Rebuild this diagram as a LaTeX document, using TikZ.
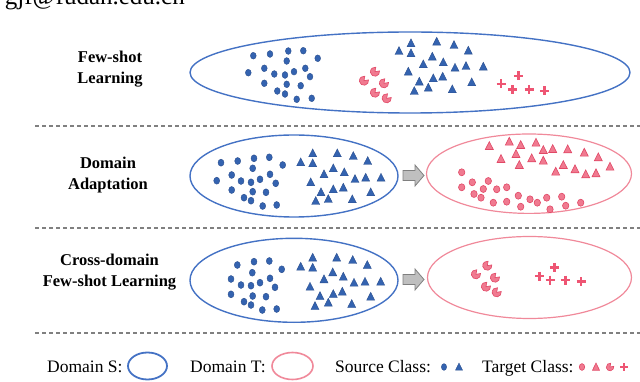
\documentclass[tikz,border=0pt]{standalone}
\usepackage{fontspec}
\setmainfont{Liberation Serif}
\usetikzlibrary{shapes.geometric}
\definecolor{blueline}{HTML}{4472C4}
\definecolor{bfill}{HTML}{3463B0}
\definecolor{bdraw}{HTML}{2B4F8E}
\definecolor{pinkline}{HTML}{F0899A}
\definecolor{pfill}{HTML}{F07A90}
\definecolor{pdraw}{HTML}{E14866}
\definecolor{pcross}{HTML}{EE5573}
\definecolor{sepgray}{HTML}{808080}
\definecolor{arrfill}{HTML}{BFBFBF}
\definecolor{arrdraw}{HTML}{7F7F7F}
\begin{document}
\begin{tikzpicture}[x=1pt,y=-1pt,
  bdot/.style={fill=bfill,draw=bdraw,line width=0.4pt},
  pdot/.style={fill=pfill,draw=pdraw,line width=0.6pt},
  pplus/.style={draw=pcross,line width=2.8pt},
  sepline/.style={draw=sepgray,line width=1.1pt,dash pattern=on 4pt off 3pt},
  domS/.style={ellipse,draw=blueline,line width=1.4pt,inner sep=0pt},
  domT/.style={ellipse,draw=pinkline,line width=1.2pt,inner sep=0pt},
  lbl/.style={font=\bfseries\fontsize{16.5}{21}\selectfont,align=center},
  leg/.style={font=\fontsize{17.5}{21}\selectfont,anchor=base west,inner sep=0pt},
  garrow/.style={fill=arrfill,draw=arrdraw,line width=0.8pt}]
\useasboundingbox (0,0) rectangle (640,382);

% email text, cut by the top edge as in the reference
\node[font=\fontsize{25}{28}\selectfont,anchor=base east,inner sep=0pt] (mail) at (185,4.5) {gjf@fudan.edu.cn};

% separators
\coordinate (s1a) at (35,126); \coordinate (s1b) at (640,126);
\coordinate (s2a) at (35,228); \coordinate (s2b) at (640,228);
\coordinate (s3a) at (35,333); \coordinate (s3b) at (640,333);
\draw[sepline] (s1a) -- (s1b);
\draw[sepline] (s2a) -- (s2b);
\draw[sepline] (s3a) -- (s3b);

% row labels
\node[lbl] (l1) at (110,69.5) {Few-shot\\Learning};
\node[lbl] (l2) at (108,175.5) {Domain\\Adaptation};
\node[lbl] (l3) at (109.5,272) {Cross-domain\\Few-shot Learning};

% domain ellipses
\node[domS,minimum width=440pt,minimum height=81pt] (fs) at (410,72.5) {};
\node[domS,minimum width=208pt,minimum height=82pt] (daS) at (294,176) {};
\node[domT,minimum width=205pt,minimum height=79.4pt] (daT) at (529,173.7) {};
\node[domS,minimum width=208pt,minimum height=84pt] (cdS) at (294,280.3) {};
\node[domT,minimum width=204pt,minimum height=82pt] (cdT) at (529.5,277.5) {};

% block arrows
\path[garrow] (403,170.5) -- (415,170.5) -- (415,165) -- (424,175.5) -- (415,186) -- (415,180.5) -- (403,180.5) -- cycle;
\path[garrow] (403,274.5) -- (415,274.5) -- (415,269) -- (424,279.5) -- (415,290) -- (415,284.5) -- (403,284.5) -- cycle;

% ---------- Row 1 ----------
\foreach \x/\y in {253.3/55.7,270/54,288.3/51,303.3/50.7,317.7/58.3,286.7/61,248.3/72.7,264.3/68.3,274.3/74,285/75,294/71.7,305.3/68.3,310/76.7,264.3/83.3,286.7/84.3,300.7/85.7,277.3/91,285/94,296.7/99.3,311.7/98.3}
  \path[bdot] (\x,\y) ellipse [x radius=2.9,y radius=3.4];
\foreach \x/\y in {399/51,411/43.3,411/53.3,436.7/41.7,454/45,468.3/50.7,432.3/56.7,423.3/64.3,443.3/62.3,455/67.7,466/66,483.3/66.7,408.3/71.7,433.3/78.3,442.7/76.7,419.3/81.7,428.3/87.7,414.3/91,452.3/89.3,471.7/82.3}
  \path[bdot] (\x,\y-4.4) -- (\x+4,\y+3.5) -- (\x-4,\y+3.5) -- cycle;
\foreach \x/\y in {375/71.7,364/80.7,384/83.3,375/92.7,386.7/98.3}
  \path[pdot] (\x,\y) -- ++(-10:4.6) arc [start angle=-10,end angle=280,radius=4.6] -- cycle;
\foreach \x/\y in {518.3/76,501/84,512.3/89.3,529/89.3,544.3/91}
  \path[pplus] (\x-4.5,\y) -- (\x+4.5,\y) (\x,\y-4.5) -- (\x,\y+4.5);

% ---------- Row 2 ----------
\foreach \x/\y in {221/162.7,237.7/161,254/158.3,269.3/157.3,282.7/165,252.7/168.3,216.7/180.7,231.7/175,241/181,251/182.3,260/179.3,270/174.3,275.7/183.3,231.7/190,252.7/191.7,266/192.3,244/197.7,251/200.7,262.7/206,276.7/205}
  \path[bdot] (\x,\y) ellipse [x radius=3,y radius=3.5];
\foreach \x/\y in {300.7/162.3,312.7/153.3,312.7/163.3,337.3/153.3,353.3/156,367.7/161,333.3/168.3,324/174.3,344.3/172.3,355/179,365.7/177.7,381/177.7,310.7/182.3,333.3/189.3,343.3/187.7,321/192.3,328.3/199,315.7/201,352.3/199.3,370.7/192.3}
  \path[bdot] (\x,\y-4.4) -- (\x+4,\y+3.5) -- (\x-4,\y+3.5) -- cycle;
\foreach \x/\y in {489.3/146,509.3/141.7,520.7/145,536/142.7,543.3/150,552.7/149,567.7/149.3,584.3/152.7,598.3/157.3,501/159,516/154,531.7/158.3,543.3/160.7,519.3/165,563.3/165,575/169.3,555.7/171.7,585.7/174.3,596/173.3,610/166.7}
  \path[pdot] (\x,\y-4.4) -- (\x+4,\y+3.5) -- (\x-4,\y+3.5) -- cycle;
\foreach \x/\y in {461.7/172.3,472.3/182.3,488.3/181,461.7/187.3,474/194,483.3/189,496.7/189.3,506.7/187.3,481/197.7,493.3/202.7,506.7/201.7,518.3/195.7,520.7/206.7,530/199.3,537.3/202.7,546.7/197.7,550/209.3,561.7/196.7,565.7/205.7,580.7/202.7}
  \path[pdot] (\x,\y) ellipse [x radius=3.2,y radius=3.5];

% ---------- Row 3 ----------
\foreach \x/\y in {237.3/265,254/261.7,269.3/261,281.7/269.3,252.3/272.7,231/279,241/285,251/285.7,260/282.7,270/278.3,275/287.3,231/294.3,252.7/296,266/296.7,244/301.7,251/305,262.3/310,276.7/309}
  \path[bdot] (\x,\y) ellipse [x radius=3,y radius=3.5];
\foreach \x/\y in {300.7/266.7,312.7/257.7,312.7/267.7,336.7/257.7,352.7/260,367.3/265,332.7/272.3,324/279.3,343.3/276.7,354/282.7,365/281.7,380.7/281.7,310/286.7,333.3/294,342.3/291.7,320/296,328.3/302.7,315/306,351.7/304,370.7/296.7}
  \path[bdot] (\x,\y-4.4) -- (\x+4,\y+3.5) -- (\x-4,\y+3.5) -- cycle;
\foreach \x/\y in {487.3/265.7,476/274.3,495/277.7,486/286.7,496.7/292.3}
  \path[pdot] (\x,\y) -- ++(-10:4.6) arc [start angle=-10,end angle=280,radius=4.6] -- cycle;
\foreach \x/\y in {554.3/267.3,539.3/276,550/280,565.7/280,581/281.7}
  \path[pplus] (\x-4.5,\y) -- (\x+4.5,\y) (\x,\y-4.5) -- (\x,\y+4.5);

% ---------- Legend ----------
\node[leg] (tS) at (47,372) {Domain S:};
\node[domS,line width=1.8pt,minimum width=39pt,minimum height=27pt] (eS) at (147.5,366) {};
\node[leg] (tT) at (190,372) {Domain T:};
\node[domT,line width=1.6pt,minimum width=41pt,minimum height=27pt] (eT) at (292.5,366) {};
\node[leg] (tSrc) at (335,372) {Source Class:};
\path[bdot] (444,367) ellipse [x radius=2.6,y radius=3.4];
\path[bdot] (459,363) -- (462.5,370.2) -- (455.5,370.2) -- cycle;
\node[leg] (tTgt) at (482,372) {Target Class:};
\path[pdot] (582,367) ellipse [x radius=2.7,y radius=3.4];
\path[pdot] (596,363) -- (599.5,370.2) -- (592.5,370.2) -- cycle;
\path[pdot] (610,367) -- ++(-10:3.8) arc [start angle=-10,end angle=280,radius=3.8] -- cycle;
\path[pplus] (620.2,367) -- (627.8,367) (624,363.2) -- (624,370.8);
\end{tikzpicture}
\end{document}
